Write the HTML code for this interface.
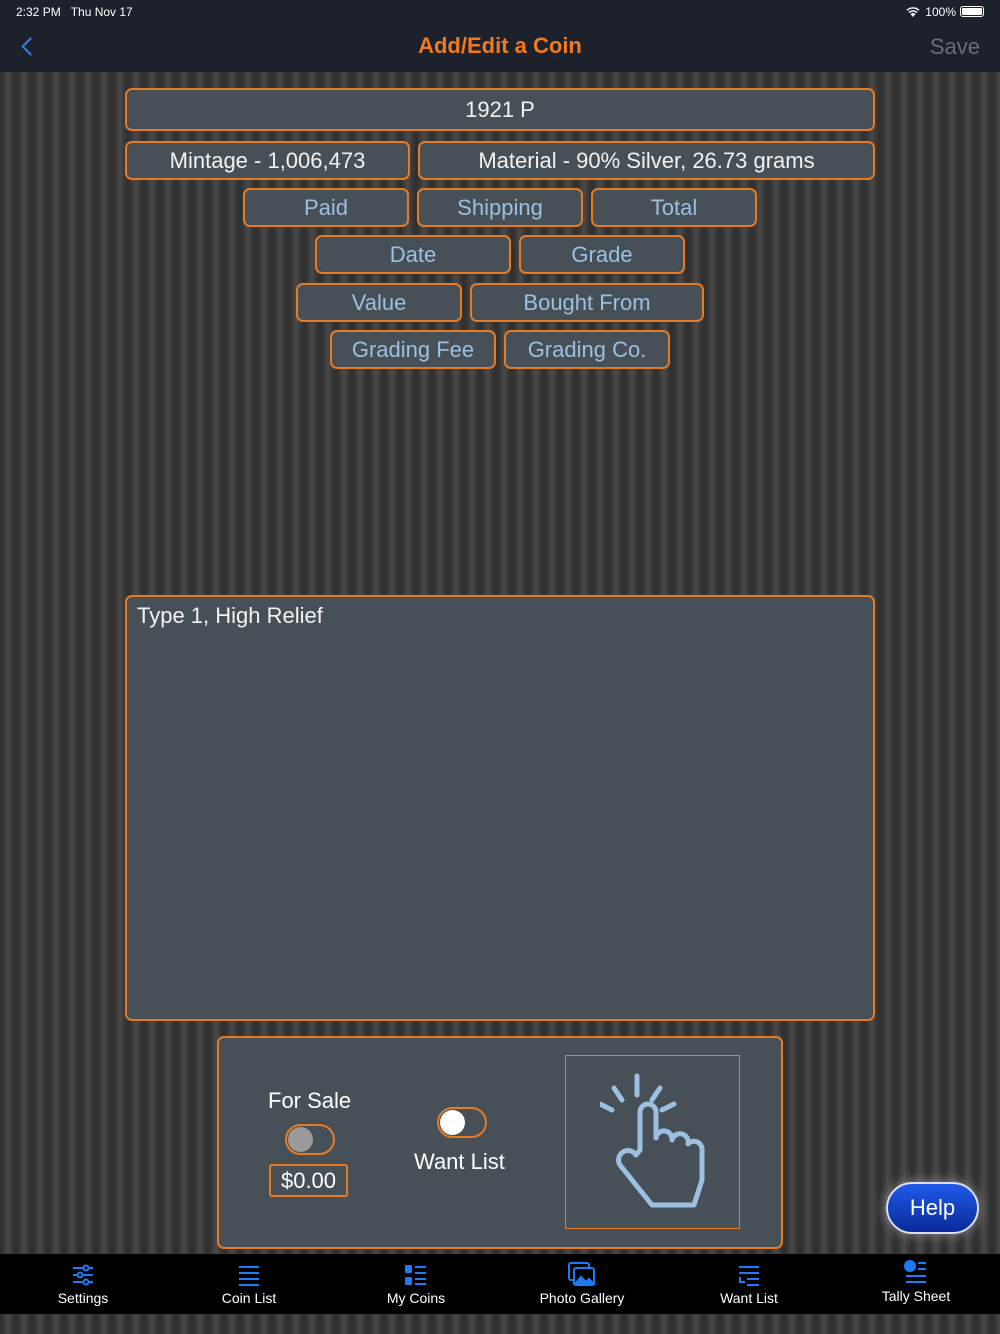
<!DOCTYPE html>
<html><head><meta charset="utf-8"><style>
*{margin:0;padding:0;box-sizing:border-box}
body{width:1000px;height:1334px;position:relative;overflow:hidden;font-family:"Liberation Sans",sans-serif;
background:repeating-linear-gradient(90deg,#2e2e2e 0px,#3a3a3a 4px,#4a4a4a 8px,#3a3a3a 12px,#2e2e2e 16px);}
.top{position:absolute;left:0;top:0;width:1000px;height:72px;background:#1c212b}
.b{position:absolute;background:#485057;border:2px solid #e87a22;border-radius:7px;color:#9cc0e2;font-size:22px;display:flex;align-items:center;justify-content:center}
.w{color:#f2f2f2}
.tab{position:absolute;bottom:20px;height:60px;width:166px;color:#fff;font-size:14px;text-align:center}
.tab span{position:absolute;left:0;right:0;top:36px}
</style></head><body>
<div class="top">
<div style="position:absolute;left:16px;top:5px;color:#fff;font-size:12px">2:32 PM&nbsp;&nbsp;&nbsp;Thu Nov 17</div>
<div style="position:absolute;right:44px;top:5px;color:#fff;font-size:12px">100%</div>
<svg style="position:absolute;right:80px;top:6px" width="14" height="11" fill="#fff"><path d="M7 11 L4.5 8 A3.5 3.5 0 0 1 9.5 8Z M2.5 6 A6.5 6.5 0 0 1 11.5 6 L10.5 7 A5 5 0 0 0 3.5 7Z M0.5 3.8 A9.5 9.5 0 0 1 13.5 3.8 L12.5 4.8 A8 8 0 0 0 1.5 4.8Z"/></svg>
<div style="position:absolute;right:16px;top:6px;width:24px;height:11px;border:1px solid #fff;border-radius:3px;padding:1px"><div style="background:#fff;width:100%;height:100%;border-radius:1px"></div></div>
<div style="position:absolute;left:24px;top:40px;width:13px;height:13px;border-left:2px solid #2f7cf6;border-bottom:2px solid #2f7cf6;transform:rotate(45deg)"></div>
<div style="position:absolute;left:0;right:0;top:33px;text-align:center;color:#f07a1f;font-size:22px;font-weight:bold">Add/Edit a Coin</div>
<div style="position:absolute;right:20px;top:34px;color:#6b6e73;font-size:22px">Save</div>
</div>
<div class="b w" style="left:125px;top:88px;width:750px;height:43px">1921 P</div>
<div class="b w" style="left:125px;top:141px;width:285px;height:39px">Mintage - 1,006,473</div>
<div class="b w" style="left:418px;top:141px;width:457px;height:39px">Material - 90% Silver, 26.73 grams</div>
<div class="b" style="left:243px;top:188px;width:166px;height:39px">Paid</div>
<div class="b" style="left:417px;top:188px;width:166px;height:39px">Shipping</div>
<div class="b" style="left:591px;top:188px;width:166px;height:39px">Total</div>
<div class="b" style="left:315px;top:235px;width:196px;height:39px">Date</div>
<div class="b" style="left:519px;top:235px;width:166px;height:39px">Grade</div>
<div class="b" style="left:296px;top:283px;width:166px;height:39px">Value</div>
<div class="b" style="left:470px;top:283px;width:234px;height:39px">Bought From</div>
<div class="b" style="left:330px;top:330px;width:166px;height:39px">Grading Fee</div>
<div class="b" style="left:504px;top:330px;width:166px;height:39px">Grading Co.</div>
<div class="b w" style="left:125px;top:595px;width:750px;height:426px;align-items:flex-start;justify-content:flex-start;padding:6px 10px">Type 1, High Relief</div>
<div class="b" style="left:217px;top:1036px;width:566px;height:213px"></div>
<div style="position:absolute;left:268px;top:1088px;color:#fff;font-size:22px">For Sale</div>
<div style="position:absolute;left:285px;top:1124px;width:50px;height:31px;border:2px solid #e87a22;border-radius:16px;background:#485057"><div style="position:absolute;left:1px;top:1px;width:25px;height:25px;border-radius:50%;background:#9a9a9a"></div></div>
<div style="position:absolute;left:269px;top:1164px;width:79px;height:33px;border:2px solid #e87a22;border-radius:3px;color:#fff;font-size:22px;text-align:center;line-height:29px">$0.00</div>
<div style="position:absolute;left:437px;top:1107px;width:50px;height:31px;border:2px solid #e87a22;border-radius:16px;background:#485057"><div style="position:absolute;left:1px;top:1px;width:25px;height:25px;border-radius:50%;background:#fff"></div></div>
<div style="position:absolute;left:414px;top:1149px;color:#fff;font-size:22px">Want List</div>
<div style="position:absolute;left:565px;top:1055px;width:175px;height:174px;border:1px solid #e87a22"></div>
<svg style="position:absolute;left:600px;top:1070px" width="110" height="145" viewBox="0 0 110 145" fill="none" stroke="#9cc0e2" stroke-width="5" stroke-linecap="round" stroke-linejoin="round">
<path d="M37 25 L37 6 M22 30 L14 18 M52 30 L60 18 M12 40 L0 34 M62 40 L74 34"/>
<path d="M40 80 V42 a8 8 0 0 1 16 0 V68 a8 8 0 0 1 16 2 a8 8 0 0 1 16 4 a8 8 0 0 1 14 6 V110 l-8 25 H52 L20 95 a9 9 0 0 1 16-10 z"/>
</svg>
<div style="position:absolute;left:886px;top:1182px;width:93px;height:52px;border:2px solid #dde;border-radius:26px;background:linear-gradient(#1f5be8,#0a2a9a);color:#fff;font-size:22px;text-align:center;line-height:48px;box-shadow:0 0 12px #888">Help</div>
<div style="position:absolute;left:0;top:1254px;width:1000px;height:60px;background:#000"></div>
<div class="tab" style="left:0"><svg style="margin-top:10px" width="24" height="22" stroke="#1b7cf5" stroke-width="2"><path d="M2 4H22M2 11H22M2 18H22"/><circle cx="15" cy="4" r="2.5" fill="#000"/><circle cx="9" cy="11" r="2.5" fill="#000"/><circle cx="15" cy="18" r="2.5" fill="#000"/></svg><span>Settings</span></div>
<div class="tab" style="left:166px"><svg style="margin-top:10px" width="24" height="22" stroke="#1b7cf5" stroke-width="2"><path d="M2 3H22M2 9H22M2 15H22M2 21H22"/></svg><span>Coin List</span></div>
<div class="tab" style="left:333px"><svg style="margin-top:10px" width="24" height="22" fill="#1b7cf5"><rect x="1" y="1" width="7" height="8" rx="1"/><rect x="1" y="13" width="7" height="8" rx="1"/><rect x="11" y="2" width="11" height="2"/><rect x="11" y="8" width="11" height="2"/><rect x="11" y="14" width="11" height="2"/><rect x="11" y="19" width="11" height="2"/></svg><span>My Coins</span></div>
<div class="tab" style="left:499px"><svg style="margin-top:8px" width="28" height="24" stroke="#1b7cf5" stroke-width="2" fill="none"><rect x="1" y="1" width="20" height="17" rx="2"/><rect x="6" y="6" width="20" height="17" rx="2" fill="#000"/><path d="M7 22 L13 15 L18 20 L21 17 L26 22Z" fill="#1b7cf5"/></svg><span>Photo Gallery</span></div>
<div class="tab" style="left:666px"><svg style="margin-top:10px" width="24" height="22" stroke="#1b7cf5" stroke-width="2"><path d="M2 3H22M2 9H22M10 15H22M10 21H22M3 13V18H8"/></svg><span>Want List</span></div>
<div class="tab" style="left:833px"><svg style="margin-top:6px" width="24" height="24" stroke="#1b7cf5" stroke-width="2"><circle cx="6" cy="6" r="5" fill="#1b7cf5"/><path d="M14 3H22M14 9H22M2 16H22M2 22H22"/></svg><span style="top:34px">Tally Sheet</span></div>
</body></html>
